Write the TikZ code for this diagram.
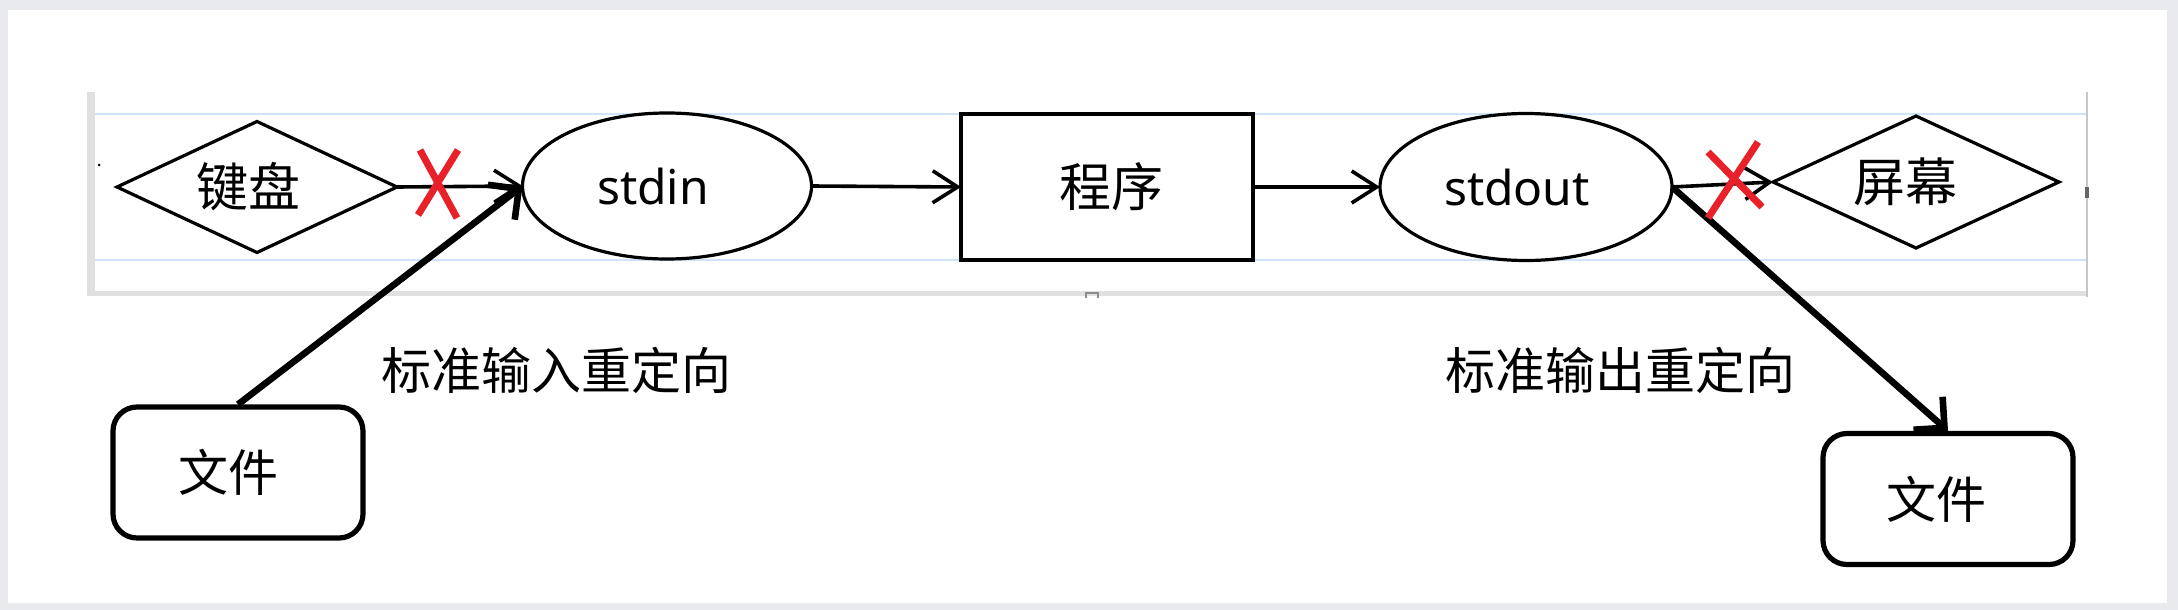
\documentclass[tikz,border=0pt]{standalone}
\usepackage{fontspec}
\newfontfamily\cjk{Noto Sans CJK SC}
\newfontfamily\latf{Noto Sans}
\usetikzlibrary{shapes.geometric,arrows.meta}
\definecolor{bggray}{HTML}{E8EAEE}
\definecolor{xred}{HTML}{E8202A}
\definecolor{gridblue}{HTML}{CFE5F7}
\definecolor{framegray}{HTML}{E0E0E0}
\begin{document}
\begin{tikzpicture}[x=0.5pt,y=-0.5pt,
  shp/.style={draw=black,line width=1.6pt,inner sep=0pt,outer sep=0pt},
  dia/.style={shp,diamond,aspect=2.1},
  ell/.style={shp,ellipse},
  cjktext/.style={font=\cjk\fontsize{26}{30}\selectfont},
  lattext/.style={font=\latf\fontsize{24}{28}\selectfont},
  filebox/.style={draw=black,line width=2.6pt,rounded corners=12pt,inner sep=0pt,
    minimum width=125pt,minimum height=65.5pt,font=\cjk\fontsize{25}{30}\selectfont},
  lab/.style={inner sep=0pt,font=\cjk\fontsize{25}{30}\selectfont},
  thinarrow/.style={line width=1.8pt,-{Straight Barb[length=12.5pt,width=16pt]}},
  thickarrow/.style={line width=3.3pt,-{Straight Barb[length=11pt,width=22pt]}},
  xmark/.style={xred,line width=3.5pt}
]
\fill[bggray] (0,0) rectangle (2178,610);
\fill[white] (8,10) rectangle (2167,603);
\useasboundingbox (0,0) rectangle (2178,610);
% pasted screenshot frame
\fill[framegray] (87,92) rectangle (95,295);
\fill[framegray] (87,291) rectangle (2088,296);
\fill[black!22] (2086,92) rectangle (2088,297);
\draw[gridblue,line width=1pt] (95,114) -- (2086,114) (95,260) -- (2086,260);
\fill[black!60] (2085,187) rectangle (2089,198);
\draw[black!45,line width=0.8pt] (1086,298) -- (1086,293) -- (1098,293) -- (1098,298);
\fill[black] (99,165) circle (1.5);
% nodes
\node[dia,minimum width=140pt,minimum height=65.5pt,cjktext] (kb) at (257,187) {\hspace*{-9pt}键盘};
\node[ell,minimum width=144.5pt,minimum height=73pt,lattext] (in) at (667,186) {\hspace*{-14pt}stdin};
\node[shp,line width=2pt,minimum width=146pt,minimum height=72.5pt,cjktext] (prog) at (1107,187) {\hspace*{4pt}程序};
\node[ell,minimum width=146pt,minimum height=73.5pt,lattext] (out) at (1526,187) {\hspace*{-9pt}stdout};
\node[dia,minimum width=143pt,minimum height=66pt,cjktext] (scr) at (1916,182) {\hspace*{-11pt}屏幕};
\node[filebox] (f1) at (238,472.5) {\hspace*{-10pt}文件};
\node[filebox] (f2) at (1948,499) {\hspace*{-12pt}文件};
\node[lab] (l1) at (556,370) {标准输入重定向};
\node[lab] (l2) at (1620,370) {标准输出重定向};
% connectors
\draw[thinarrow] (kb.east) -- (in.west);
\draw[thinarrow] (in.east) -- (prog.west);
\draw[thinarrow] (prog.east) -- (out.west);
\draw[thinarrow] (out.east) -- (scr.west);
\draw[thickarrow] (f1.north) -- (in.west);
\draw[thickarrow] (out.east) -- (f2.north);
% red crosses
\draw[xmark] (420,150) -- (457,218) (458,150) -- (418,215);
\draw[xmark] (1708,152) -- (1762,207) (1758,142) -- (1708,218);
\end{tikzpicture}
\end{document}
